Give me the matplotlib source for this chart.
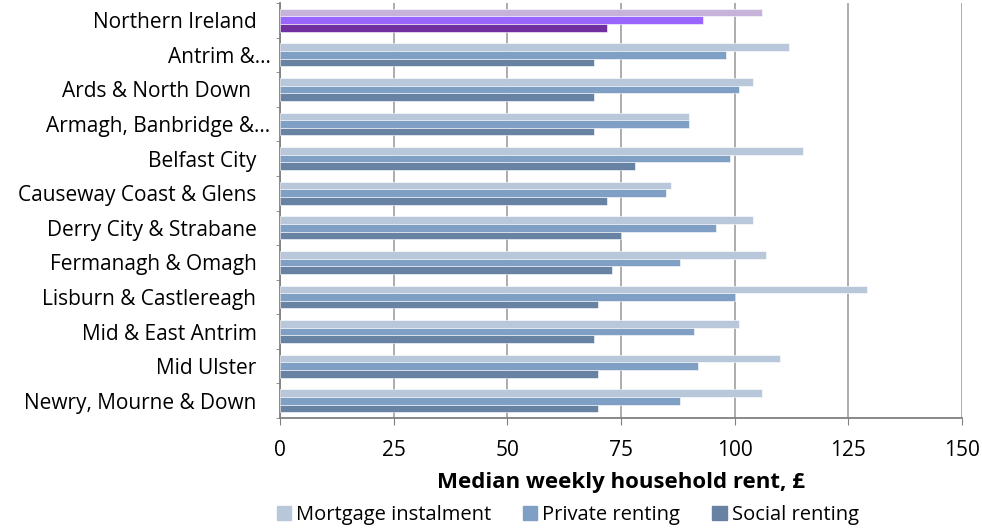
import matplotlib
matplotlib.use("Agg")
import matplotlib.pyplot as plt
import matplotlib.transforms as mtrans
import numpy as np

categories = ["Northern Ireland", "Antrim &…", "Ards & North Down ", "Armagh, Banbridge &…",
              "Belfast City", "Causeway Coast & Glens", "Derry City & Strabane",
              "Fermanagh & Omagh", "Lisburn & Castlereagh", "Mid & East Antrim",
              "Mid Ulster", "Newry, Mourne & Down"]
mortgage = [106, 112, 104, 90, 115, 86, 104, 107, 129, 101, 110, 106]
private = [93, 98, 101, 90, 99, 85, 96, 88, 100, 91, 92, 88]
social = [72, 69, 69, 69, 78, 72, 75, 73, 70, 69, 70, 70]
series_names = ["Mortgage instalment", "Private renting", "Social renting"]
x_ticks = [0, 25, 50, 75, 100, 125, 150]

colors = ["#B9C7DB", "#7F9FC4", "#6882A4"]
ni_colors = ["#C5B3D9", "#9966FF", "#7030A0"]

plt.rcParams['font.family'] = ['Open Sans', 'DejaVu Sans']

fig = plt.figure(figsize=(9.82, 5.30), dpi=100)
ax = fig.add_axes([280/982, 1-418/530, 682/982, 415/530])

n = len(categories)
y = np.arange(n)
h = 0.22
data = [mortgage, private, social]
for k, vals in enumerate(data):
    offs = (k - 1) * h
    cols = [ni_colors[k] if i == 0 else colors[k] for i in range(n)]
    ax.barh(y + offs, vals, height=h, color=cols, edgecolor="white", linewidth=0.4,
            label=series_names[k], zorder=3)

ax.set_ylim(n - 0.5, -0.5)
ax.set_xlim(0, 150)
ax.set_yticks(y)
ax.set_yticklabels(categories, fontsize=15, color="#000000")
ax.tick_params(axis='y', length=0, pad=17)
for lab in ax.get_yticklabels():
    if lab.get_text().endswith("…"):
        lab.set_transform(lab.get_transform() + mtrans.ScaledTranslation(0.14, 0, fig.dpi_scale_trans))
ax.set_yticks(np.arange(-0.5, n, 1), minor=True)
ax.tick_params(axis='y', which='minor', length=3, color="#808080")
ax.set_xticks(x_ticks)
ax.set_xticklabels([str(t) for t in x_ticks], fontsize=15)
ax.tick_params(axis='x', length=5, color="#808080", pad=11)
ax.grid(axis='x', color="#A6A6A6", linewidth=1.3, zorder=0)
for s in ["top", "right"]:
    ax.spines[s].set_visible(False)
for s in ["left", "bottom"]:
    ax.spines[s].set_color("#808080")
    ax.spines[s].set_linewidth(1.3)

ax.set_xlabel("Median weekly household rent, £", fontsize=16, fontweight='bold', labelpad=8)

handles = [plt.Rectangle((0, 0), 1, 1, color=c) for c in colors]
fig.legend(handles, series_names, loc='lower center', bbox_to_anchor=(0.578, -0.025),
           ncol=3, frameon=False, fontsize=14.5, handlelength=0.7, handleheight=0.7,
           handletextpad=0.25, columnspacing=1.6)

fig.savefig("out.png", dpi=100)
